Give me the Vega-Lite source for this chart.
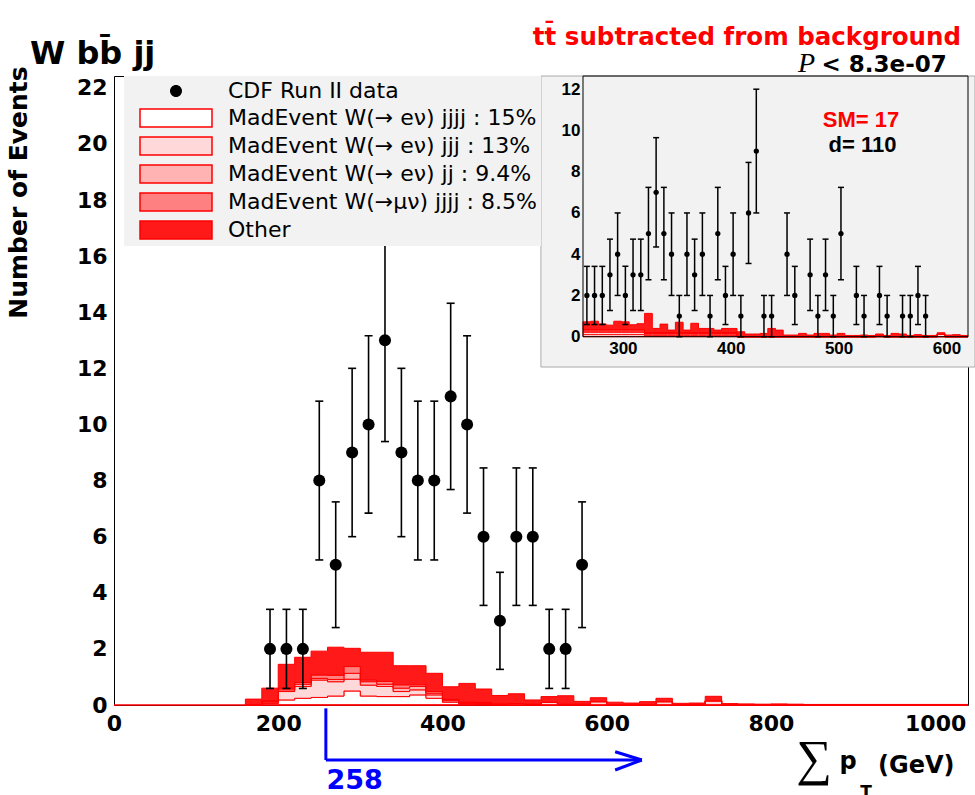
{
  "$schema": "https://vega.github.io/schema/vega-lite/v6.json",
  "width": 854,
  "height": 629,
  "autosize": {"type": "none"},
  "padding": {"left": 114, "top": 76, "right": 7, "bottom": 90},
  "background": "white",
  "config": {
    "view": {"stroke": "black", "strokeWidth": 1},
    "axis": {"grid": false, "domain": false}
  },
  "datasets": {
    "blank": [{}],
    "mainHist": [
      {"x": 160, "c1": 0, "c2": 0, "c3": 0, "c4": 0, "c5": 0.21},
      {"x": 180, "c1": 0.05, "c2": 0.05, "c3": 0.03, "c4": 0.02, "c5": 0.45},
      {"x": 200, "c1": 0.18, "c2": 0.3, "c3": 0.06, "c4": 0.06, "c5": 0.85},
      {"x": 220, "c1": 0.24, "c2": 0.42, "c3": 0.08, "c4": 0.06, "c5": 0.9},
      {"x": 240, "c1": 0.27, "c2": 0.62, "c3": 0.06, "c4": 0.12, "c5": 0.85},
      {"x": 260, "c1": 0.32, "c2": 0.51, "c3": 0.08, "c4": 0.15, "c5": 1.0},
      {"x": 280, "c1": 0.5, "c2": 0.42, "c3": 0.21, "c4": 0.24, "c5": 0.65},
      {"x": 300, "c1": 0.32, "c2": 0.39, "c3": 0.12, "c4": 0.06, "c5": 0.99},
      {"x": 320, "c1": 0.3, "c2": 0.36, "c3": 0.08, "c4": 0.1, "c5": 1.04},
      {"x": 340, "c1": 0.3, "c2": 0.18, "c3": 0.12, "c4": 0.12, "c5": 0.68},
      {"x": 360, "c1": 0.36, "c2": 0.18, "c3": 0.12, "c4": 0.06, "c5": 0.68},
      {"x": 380, "c1": 0.24, "c2": 0.12, "c3": 0.06, "c4": 0.06, "c5": 0.65},
      {"x": 400, "c1": 0.1, "c2": 0.05, "c3": 0.03, "c4": 0.02, "c5": 0.45},
      {"x": 420, "c1": 0.03, "c2": 0.03, "c3": 0.02, "c4": 0.02, "c5": 0.67},
      {"x": 440, "c1": 0.02, "c2": 0.03, "c3": 0.02, "c4": 0.02, "c5": 0.48},
      {"x": 460, "c1": 0, "c2": 0.04, "c3": 0, "c4": 0, "c5": 0.3},
      {"x": 480, "c1": 0, "c2": 0.05, "c3": 0, "c4": 0, "c5": 0.35},
      {"x": 500, "c1": 0, "c2": 0.03, "c3": 0, "c4": 0, "c5": 0.15},
      {"x": 520, "c1": 0, "c2": 0.1, "c3": 0, "c4": 0, "c5": 0.2},
      {"x": 540, "c1": 0, "c2": 0.03, "c3": 0, "c4": 0, "c5": 0.3},
      {"x": 560, "c1": 0, "c2": 0.03, "c3": 0, "c4": 0, "c5": 0.1},
      {"x": 580, "c1": 0, "c2": 0.12, "c3": 0, "c4": 0, "c5": 0.14},
      {"x": 600, "c1": 0, "c2": 0, "c3": 0, "c4": 0, "c5": 0.1},
      {"x": 620, "c1": 0, "c2": 0, "c3": 0, "c4": 0, "c5": 0.07},
      {"x": 640, "c1": 0, "c2": 0, "c3": 0, "c4": 0, "c5": 0.12},
      {"x": 660, "c1": 0, "c2": 0.12, "c3": 0, "c4": 0, "c5": 0.12},
      {"x": 680, "c1": 0, "c2": 0, "c3": 0, "c4": 0, "c5": 0.06},
      {"x": 700, "c1": 0, "c2": 0, "c3": 0, "c4": 0, "c5": 0.07},
      {"x": 720, "c1": 0, "c2": 0.15, "c3": 0, "c4": 0, "c5": 0.16},
      {"x": 740, "c1": 0, "c2": 0, "c3": 0, "c4": 0, "c5": 0.05},
      {"x": 760, "c1": 0, "c2": 0, "c3": 0, "c4": 0, "c5": 0.04},
      {"x": 780, "c1": 0, "c2": 0, "c3": 0, "c4": 0, "c5": 0.03},
      {"x": 800, "c1": 0, "c2": 0, "c3": 0, "c4": 0, "c5": 0.04},
      {"x": 820, "c1": 0, "c2": 0, "c3": 0, "c4": 0, "c5": 0.03},
      {"x": 840, "c1": 0, "c2": 0, "c3": 0, "c4": 0, "c5": 0.02},
      {"x": 860, "c1": 0, "c2": 0, "c3": 0, "c4": 0, "c5": 0.02},
      {"x": 880, "c1": 0, "c2": 0, "c3": 0, "c4": 0, "c5": 0.02},
      {"x": 900, "c1": 0, "c2": 0, "c3": 0, "c4": 0, "c5": 0.02},
      {"x": 920, "c1": 0, "c2": 0, "c3": 0, "c4": 0, "c5": 0.02},
      {"x": 940, "c1": 0, "c2": 0, "c3": 0, "c4": 0, "c5": 0.02},
      {"x": 960, "c1": 0, "c2": 0, "c3": 0, "c4": 0, "c5": 0.02},
      {"x": 980, "c1": 0, "c2": 0, "c3": 0, "c4": 0, "c5": 0.02},
      {"x": 1000, "c1": 0, "c2": 0, "c3": 0, "c4": 0, "c5": 0.02},
      {"x": 1020, "c1": 0, "c2": 0, "c3": 0, "c4": 0, "c5": 0.02},
      {"x": 1040, "c1": 0, "c2": 0, "c3": 0, "c4": 0, "c5": 0}
    ],
    "mainPts": [
      {"x": 190, "n": 2, "lo": 0.59, "hi": 3.41},
      {"x": 210, "n": 2, "lo": 0.59, "hi": 3.41},
      {"x": 230, "n": 2, "lo": 0.59, "hi": 3.41},
      {"x": 250, "n": 8, "lo": 5.17, "hi": 10.83},
      {"x": 270, "n": 5, "lo": 2.76, "hi": 7.24},
      {"x": 290, "n": 9, "lo": 6, "hi": 12},
      {"x": 310, "n": 10, "lo": 6.84, "hi": 13.16},
      {"x": 330, "n": 13, "lo": 9.39, "hi": 16.61},
      {"x": 350, "n": 9, "lo": 6, "hi": 12},
      {"x": 370, "n": 8, "lo": 5.17, "hi": 10.83},
      {"x": 390, "n": 8, "lo": 5.17, "hi": 10.83},
      {"x": 410, "n": 11, "lo": 7.68, "hi": 14.32},
      {"x": 430, "n": 10, "lo": 6.84, "hi": 13.16},
      {"x": 450, "n": 6, "lo": 3.55, "hi": 8.45},
      {"x": 470, "n": 3, "lo": 1.27, "hi": 4.73},
      {"x": 490, "n": 6, "lo": 3.55, "hi": 8.45},
      {"x": 510, "n": 6, "lo": 3.55, "hi": 8.45},
      {"x": 530, "n": 2, "lo": 0.59, "hi": 3.41},
      {"x": 550, "n": 2, "lo": 0.59, "hi": 3.41},
      {"x": 570, "n": 5, "lo": 2.76, "hi": 7.24}
    ],
    "insetHist": [
      {"x": 263, "c1": 0.1, "c2": 0.12, "c3": 0.06, "c4": 0.06, "c5": 0.38},
      {"x": 270.14, "c1": 0.1, "c2": 0.12, "c3": 0.06, "c4": 0.06, "c5": 0.41},
      {"x": 277.28, "c1": 0.1, "c2": 0.12, "c3": 0.06, "c4": 0.06, "c5": 0.28},
      {"x": 284.42, "c1": 0.1, "c2": 0.12, "c3": 0.06, "c4": 0.06, "c5": 0.22},
      {"x": 291.56, "c1": 0.1, "c2": 0.12, "c3": 0.06, "c4": 0.06, "c5": 0.41},
      {"x": 298.7, "c1": 0.1, "c2": 0.12, "c3": 0.06, "c4": 0.06, "c5": 0.38},
      {"x": 305.84, "c1": 0.1, "c2": 0.12, "c3": 0.06, "c4": 0.06, "c5": 0.24},
      {"x": 312.98, "c1": 0.1, "c2": 0.12, "c3": 0.06, "c4": 0.06, "c5": 0.29},
      {"x": 320.12, "c1": 0.05, "c2": 0.08, "c3": 0.03, "c4": 0.04, "c5": 0.93},
      {"x": 327.26, "c1": 0.05, "c2": 0.08, "c3": 0.03, "c4": 0.04, "c5": 0.2},
      {"x": 334.4, "c1": 0.05, "c2": 0.08, "c3": 0.03, "c4": 0.04, "c5": 0.41},
      {"x": 341.54, "c1": 0.05, "c2": 0.08, "c3": 0.03, "c4": 0.04, "c5": 0.12},
      {"x": 348.68, "c1": 0.05, "c2": 0.08, "c3": 0.03, "c4": 0.04, "c5": 0.5},
      {"x": 355.82, "c1": 0.05, "c2": 0.08, "c3": 0.03, "c4": 0.04, "c5": 0.12},
      {"x": 362.96, "c1": 0.05, "c2": 0.08, "c3": 0.03, "c4": 0.04, "c5": 0.45},
      {"x": 370.1, "c1": 0.05, "c2": 0.08, "c3": 0.03, "c4": 0.04, "c5": 0.2},
      {"x": 377.24, "c1": 0.05, "c2": 0.08, "c3": 0.03, "c4": 0.04, "c5": 0.2},
      {"x": 384.38, "c1": 0.05, "c2": 0.08, "c3": 0.03, "c4": 0.04, "c5": 0.12},
      {"x": 391.52, "c1": 0.05, "c2": 0.08, "c3": 0.03, "c4": 0.04, "c5": 0.2},
      {"x": 398.66, "c1": 0.05, "c2": 0.08, "c3": 0.03, "c4": 0.04, "c5": 0.2},
      {"x": 405.8, "c1": 0, "c2": 0, "c3": 0, "c4": 0, "c5": 0.24},
      {"x": 412.94, "c1": 0, "c2": 0, "c3": 0, "c4": 0, "c5": 0.13},
      {"x": 420.08, "c1": 0, "c2": 0, "c3": 0, "c4": 0, "c5": 0.13},
      {"x": 427.22, "c1": 0, "c2": 0, "c3": 0, "c4": 0, "c5": 0.16},
      {"x": 434.36, "c1": 0, "c2": 0, "c3": 0, "c4": 0, "c5": 0.4},
      {"x": 441.5, "c1": 0, "c2": 0, "c3": 0, "c4": 0, "c5": 0.32},
      {"x": 448.64, "c1": 0, "c2": 0, "c3": 0, "c4": 0, "c5": 0.08},
      {"x": 455.78, "c1": 0, "c2": 0, "c3": 0, "c4": 0, "c5": 0.08},
      {"x": 462.92, "c1": 0, "c2": 0, "c3": 0, "c4": 0, "c5": 0.16},
      {"x": 470.06, "c1": 0, "c2": 0, "c3": 0, "c4": 0, "c5": 0.08},
      {"x": 477.2, "c1": 0, "c2": 0, "c3": 0, "c4": 0, "c5": 0.16},
      {"x": 484.34, "c1": 0, "c2": 0, "c3": 0, "c4": 0, "c5": 0.16},
      {"x": 491.48, "c1": 0, "c2": 0, "c3": 0, "c4": 0, "c5": 0.08},
      {"x": 498.62, "c1": 0, "c2": 0, "c3": 0, "c4": 0, "c5": 0.16},
      {"x": 505.76, "c1": 0, "c2": 0, "c3": 0, "c4": 0, "c5": 0.06},
      {"x": 512.9, "c1": 0, "c2": 0, "c3": 0, "c4": 0, "c5": 0.06},
      {"x": 520.04, "c1": 0, "c2": 0, "c3": 0, "c4": 0, "c5": 0.08},
      {"x": 527.18, "c1": 0, "c2": 0, "c3": 0, "c4": 0, "c5": 0.06},
      {"x": 534.32, "c1": 0, "c2": 0.07, "c3": 0, "c4": 0, "c5": 0.06},
      {"x": 541.46, "c1": 0, "c2": 0, "c3": 0, "c4": 0, "c5": 0.06},
      {"x": 548.6, "c1": 0, "c2": 0, "c3": 0, "c4": 0, "c5": 0.16},
      {"x": 555.74, "c1": 0, "c2": 0, "c3": 0, "c4": 0, "c5": 0.13},
      {"x": 562.88, "c1": 0, "c2": 0, "c3": 0, "c4": 0, "c5": 0.06},
      {"x": 570.02, "c1": 0, "c2": 0, "c3": 0, "c4": 0, "c5": 0.1},
      {"x": 577.16, "c1": 0, "c2": 0, "c3": 0, "c4": 0, "c5": 0.06},
      {"x": 584.3, "c1": 0, "c2": 0, "c3": 0, "c4": 0, "c5": 0.06},
      {"x": 591.44, "c1": 0, "c2": 0.12, "c3": 0, "c4": 0, "c5": 0.07},
      {"x": 598.58, "c1": 0, "c2": 0, "c3": 0, "c4": 0, "c5": 0.08},
      {"x": 605.72, "c1": 0, "c2": 0, "c3": 0, "c4": 0, "c5": 0.1},
      {"x": 612.86, "c1": 0, "c2": 0, "c3": 0, "c4": 0, "c5": 0.06},
      {"x": 620, "c1": 0, "c2": 0, "c3": 0, "c4": 0, "c5": 0}
    ],
    "insetPts": [
      {"x": 266.6, "n": 2, "lo": 0.59, "hi": 3.41},
      {"x": 273.7, "n": 2, "lo": 0.59, "hi": 3.41},
      {"x": 280.9, "n": 2, "lo": 0.59, "hi": 3.41},
      {"x": 288.0, "n": 3, "lo": 1.27, "hi": 4.73},
      {"x": 295.1, "n": 4, "lo": 2, "hi": 6},
      {"x": 302.3, "n": 2, "lo": 0.59, "hi": 3.41},
      {"x": 309.4, "n": 3, "lo": 1.27, "hi": 4.73},
      {"x": 316.6, "n": 3, "lo": 1.27, "hi": 4.73},
      {"x": 323.7, "n": 5, "lo": 2.76, "hi": 7.24},
      {"x": 330.8, "n": 7, "lo": 4.35, "hi": 9.65},
      {"x": 338.0, "n": 5, "lo": 2.76, "hi": 7.24},
      {"x": 345.1, "n": 4, "lo": 2, "hi": 6},
      {"x": 352.3, "n": 1, "lo": 0, "hi": 2},
      {"x": 359.4, "n": 4, "lo": 2, "hi": 6},
      {"x": 366.5, "n": 3, "lo": 1.27, "hi": 4.73},
      {"x": 373.7, "n": 4, "lo": 2, "hi": 6},
      {"x": 380.8, "n": 1, "lo": 0, "hi": 2},
      {"x": 388.0, "n": 5, "lo": 2.76, "hi": 7.24},
      {"x": 395.1, "n": 2, "lo": 0.59, "hi": 3.41},
      {"x": 402.2, "n": 4, "lo": 2, "hi": 6},
      {"x": 409.4, "n": 1, "lo": 0, "hi": 2},
      {"x": 416.5, "n": 6, "lo": 3.55, "hi": 8.45},
      {"x": 423.7, "n": 9, "lo": 6, "hi": 12},
      {"x": 430.8, "n": 1, "lo": 0, "hi": 2},
      {"x": 437.9, "n": 1, "lo": 0, "hi": 2},
      {"x": 452.2, "n": 4, "lo": 2, "hi": 6},
      {"x": 459.4, "n": 2, "lo": 0.59, "hi": 3.41},
      {"x": 473.6, "n": 3, "lo": 1.27, "hi": 4.73},
      {"x": 480.8, "n": 1, "lo": 0, "hi": 2},
      {"x": 487.9, "n": 3, "lo": 1.27, "hi": 4.73},
      {"x": 495.1, "n": 1, "lo": 0, "hi": 2},
      {"x": 502.2, "n": 5, "lo": 2.76, "hi": 7.24},
      {"x": 516.5, "n": 2, "lo": 0.59, "hi": 3.41},
      {"x": 523.6, "n": 1, "lo": 0, "hi": 2},
      {"x": 537.9, "n": 2, "lo": 0.59, "hi": 3.41},
      {"x": 545.0, "n": 1, "lo": 0, "hi": 2},
      {"x": 559.3, "n": 1, "lo": 0, "hi": 2},
      {"x": 566.5, "n": 1, "lo": 0, "hi": 2},
      {"x": 573.6, "n": 2, "lo": 0.59, "hi": 3.41},
      {"x": 580.7, "n": 1, "lo": 0, "hi": 2}
    ]
  },
  "layer": [
    {
      "layer": [
        {
          "data": {"name": "mainHist"},
          "transform": [{"fold": ["c1", "c2", "c3", "c4", "c5"], "as": ["key", "value"]}],
          "mark": {"type": "area", "interpolate": "step-after", "stroke": "red", "strokeWidth": 1, "fillOpacity": 1, "opacity": 1},
          "encoding": {
            "x": {
              "field": "x", "type": "quantitative",
              "scale": {"domain": [0, 1040], "nice": false, "zero": false},
              "axis": {
                "title": null,
                "values": [0, 50, 100, 150, 200, 250, 300, 350, 400, 450, 500, 550, 600, 650, 700, 750, 800, 850, 900, 950, 1000],
                "format": "d",
                "labelExpr": "datum.value % 200 === 0 ? datum.label : ''",
                "tickSize": 0, "tickColor": "black", "tickWidth": 1,
                "labelFont": "DejaVu Sans", "labelFontWeight": "bold", "labelFontSize": 22, "labelColor": "black",
                "labelPadding": 8, "labelFlush": false, "labelOverlap": false,
                "encode": {"ticks": {"update": {"y2": {"signal": "datum.value % 200 === 0 ? -18 : -9"}}}}
              }
            },
            "y": {
              "field": "value", "type": "quantitative", "stack": "zero",
              "scale": {"domain": [0, 22.42], "nice": false},
              "axis": {
                "title": "Number of Events",
                "titleFont": "DejaVu Sans", "titleFontWeight": "bold", "titleFontSize": 25, "titleColor": "black",
                "titleAngle": -90, "titleX": -96, "titleY": 116, "titleAlign": "center", "titleBaseline": "middle",
                "values": [0, 0.5, 1, 1.5, 2, 2.5, 3, 3.5, 4, 4.5, 5, 5.5, 6, 6.5, 7, 7.5, 8, 8.5, 9, 9.5, 10, 10.5, 11, 11.5, 12, 12.5, 13, 13.5, 14, 14.5, 15, 15.5, 16, 16.5, 17, 17.5, 18, 18.5, 19, 19.5, 20, 20.5, 21, 21.5, 22],
                "format": "d",
                "labelExpr": "datum.value % 2 === 0 ? datum.label : ''",
                "tickSize": 0, "tickColor": "black", "tickWidth": 1,
                "labelFont": "DejaVu Sans", "labelFontWeight": "bold", "labelFontSize": 22, "labelColor": "black",
                "labelPadding": 7, "labelFlush": false, "labelOverlap": false,
                "encode": {"ticks": {"update": {"x2": {"signal": "datum.value % 2 === 0 ? 26 : 13"}}}}
              }
            },
            "fill": {
              "field": "key", "type": "nominal",
              "scale": {"domain": ["c0", "c1", "c2", "c3", "c4", "c5"], "range": ["black", "white", "#ffd9d9", "#ffb3b3", "#ff8080", "#ff1919"]},
              "legend": {
                "orient": "none", "legendX": 10, "legendY": 0, "direction": "vertical",
                "title": null, "fillColor": "#f2f2f2", "padding": 4,
                "symbolSize": 324, "symbolOffset": 37, "labelOffset": 41, "rowPadding": 4,
                "symbolStrokeWidth": 1.5,
                "symbolType": {"expr": "datum.value === 'c0' ? 'M-0.667,0A0.667,0.667,0,1,0,0.667,0A0.667,0.667,0,1,0,-0.667,0Z' : 'M-4,-1H4V1H-4Z'"},
                "symbolStrokeColor": {"expr": "datum.value === 'c0' ? 'transparent' : 'red'"},
                "labelFont": "DejaVu Sans", "labelFontSize": 22, "labelColor": "black", "labelLimit": 600,
                "zindex": 2,
                "labelExpr": "datum.value == 'c0' ? 'CDF Run II data' : datum.value == 'c1' ? 'MadEvent W(→ eν) jjjj : 15%' : datum.value == 'c2' ? 'MadEvent W(→ eν) jjj : 13%' : datum.value == 'c3' ? 'MadEvent W(→ eν) jj : 9.4%' : datum.value == 'c4' ? 'MadEvent W(→μν) jjjj : 8.5%' : 'Other'",
                "encode": {
                  "symbols": {
                    "shape": {
                      "condition": {"test": "datum.value === 'c0'", "value": "M-0.667,0A0.667,0.667,0,1,0,0.667,0A0.667,0.667,0,1,0,-0.667,0Z"},
                      "value": "M-4,-1H4V1H-4Z"
                    },
                    "stroke": {
                      "condition": {"test": "datum.value === 'c0'", "value": "transparent"},
                      "value": "red"
                    },
                    "strokeWidth": {"value": 1.5},
                    "opacity": {"value": 1},
                    "fillOpacity": {"value": 1}
                  }
                }
              }
            },
            "order": {"field": "key", "sort": "ascending"}
          }
        },
        {
          "data": {"name": "blank"},
          "mark": {"type": "rule", "color": "red", "strokeWidth": 1.5},
          "encoding": {"y": {"datum": 0}}
        },
        {
          "data": {"name": "mainPts"},
          "mark": {"type": "rule", "color": "black", "strokeWidth": 1.6},
          "encoding": {
            "x": {"field": "x", "type": "quantitative"},
            "y": {"field": "lo", "type": "quantitative"},
            "y2": {"field": "hi"}
          }
        },
        {
          "data": {"name": "mainPts"},
          "mark": {"type": "tick", "orient": "horizontal", "size": 8, "thickness": 1.6, "color": "black", "opacity": 1},
          "encoding": {
            "x": {"field": "x", "type": "quantitative"},
            "y": {"field": "hi", "type": "quantitative"}
          }
        },
        {
          "data": {"name": "mainPts"},
          "mark": {"type": "tick", "orient": "horizontal", "size": 8, "thickness": 1.6, "color": "black", "opacity": 1},
          "encoding": {
            "x": {"field": "x", "type": "quantitative"},
            "y": {"field": "lo", "type": "quantitative"}
          }
        },
        {
          "data": {"name": "mainPts"},
          "mark": {"type": "point", "shape": "circle", "filled": true, "size": 145, "opacity": 1, "color": "black"},
          "encoding": {
            "x": {"field": "x", "type": "quantitative"},
            "y": {"field": "n", "type": "quantitative"}
          }
        },
        {
          "data": {"name": "blank"},
          "mark": {"type": "rule", "color": "#0000ff", "strokeWidth": 3},
          "encoding": {"x": {"datum": 258}, "y": {"datum": -0.12}, "y2": {"datum": -1.96}}
        },
        {
          "data": {"name": "blank"},
          "mark": {"type": "rule", "color": "#0000ff", "strokeWidth": 3},
          "encoding": {"x": {"datum": 258}, "x2": {"datum": 642.8}, "y": {"datum": -1.96}}
        },
        {
          "data": {"name": "blank"},
          "mark": {"type": "rule", "color": "#0000ff", "strokeWidth": 3},
          "encoding": {"x": {"datum": 610.3}, "x2": {"datum": 642.8}, "y": {"datum": -1.665}, "y2": {"datum": -1.96}}
        },
        {
          "data": {"name": "blank"},
          "mark": {"type": "rule", "color": "#0000ff", "strokeWidth": 3},
          "encoding": {"x": {"datum": 610.3}, "x2": {"datum": 642.8}, "y": {"datum": -2.317}, "y2": {"datum": -1.96}}
        },
        {
          "data": {"name": "blank"},
          "mark": {"type": "text", "font": "DejaVu Sans", "fontWeight": "bold", "fontSize": 27, "color": "#0000ff", "align": "left", "baseline": "alphabetic"},
          "encoding": {"x": {"datum": 258.7}, "y": {"datum": -2.98}, "text": {"value": "258"}}
        },
        {
          "data": {"name": "blank"},
          "mark": {"type": "text", "font": "Liberation Serif", "fontSize": 50, "color": "black", "align": "center", "baseline": "middle"},
          "encoding": {"x": {"datum": 852.5}, "y": {"datum": -1.96}, "text": {"value": "∑"}}
        },
        {
          "data": {"name": "blank"},
          "mark": {"type": "text", "font": "DejaVu Sans", "fontWeight": "bold", "fontSize": 24, "color": "black", "align": "center", "baseline": "alphabetic"},
          "encoding": {"x": {"datum": 893.9}, "y": {"datum": -2.28}, "text": {"value": "p"}}
        },
        {
          "data": {"name": "blank"},
          "mark": {"type": "text", "font": "DejaVu Sans", "fontWeight": "bold", "fontSize": 17, "color": "black", "align": "center", "baseline": "alphabetic"},
          "encoding": {"x": {"datum": 915.8}, "y": {"datum": -3.3}, "text": {"value": "T"}}
        },
        {
          "data": {"name": "blank"},
          "mark": {"type": "text", "font": "DejaVu Sans", "fontWeight": "bold", "fontSize": 24, "color": "black", "align": "left", "baseline": "alphabetic"},
          "encoding": {"x": {"datum": 930.4}, "y": {"datum": -2.42}, "text": {"value": "(GeV)"}}
        },
        {
          "data": {"name": "blank"},
          "mark": {"type": "text", "font": "DejaVu Sans", "fontWeight": "bold", "fontSize": 32, "color": "black", "align": "left", "baseline": "alphabetic"},
          "encoding": {"x": {"datum": -102.3}, "y": {"datum": 22.85}, "text": {"value": "W bb\u0304 jj"}}
        },
        {
          "data": {"name": "blank"},
          "mark": {"type": "text", "font": "DejaVu Sans", "fontWeight": "bold", "fontSize": 24.5, "color": "#ff0000", "align": "right", "baseline": "alphabetic"},
          "encoding": {"x": {"datum": 1031.5}, "y": {"datum": 23.53}, "text": {"value": "tt\u0304 subtracted from background"}}
        },
        {
          "data": {"name": "blank"},
          "mark": {"type": "text", "font": "DejaVu Sans", "fontWeight": "bold", "fontSize": 23, "color": "black", "align": "right", "baseline": "alphabetic"},
          "encoding": {"x": {"datum": 1014.1}, "y": {"datum": 22.57}, "text": {"value": "< 8.3e-07"}}
        },
        {
          "data": {"name": "blank"},
          "mark": {"type": "text", "font": "Liberation Serif", "fontStyle": "italic", "fontSize": 28, "color": "black", "align": "right", "baseline": "alphabetic"},
          "encoding": {"x": {"datum": 853.7}, "y": {"datum": 22.57}, "text": {"value": "P"}}
        }
      ]
    },
    {
      "layer": [
        {
          "data": {"name": "blank"},
          "mark": {"type": "rect", "fill": "#f2f2f2", "stroke": "#aaaaaa", "strokeWidth": 1},
          "encoding": {
            "x": {"datum": 224}, "x2": {"datum": 626.5},
            "y": {"datum": -1.47}, "y2": {"datum": 12.64}
          }
        },
        {
          "data": {"name": "insetHist"},
          "transform": [{"fold": ["c1", "c2", "c3", "c4", "c5"], "as": ["key", "value"]}],
          "mark": {"type": "area", "interpolate": "step-after", "stroke": "red", "strokeWidth": 1, "fillOpacity": 1, "opacity": 1},
          "encoding": {
            "x": {
              "field": "x", "type": "quantitative",
              "scale": {"domain": [263, 620], "range": [469, 854], "nice": false, "zero": false},
              "axis": {
                "orient": "bottom", "offset": -368.3, "title": null, "zindex": 1,
                "values": [300, 400, 500, 600], "format": "d",
                "tickSize": 0, "tickColor": "black", "tickWidth": 1,
                "labelFont": "Liberation Sans", "labelFontWeight": "bold", "labelFontSize": 17, "labelColor": "black",
                "labelPadding": 4, "labelFlush": false, "labelOverlap": false,
                "encode": {"ticks": {"update": {"y2": {"value": -10}}}}
              }
            },
            "y": {
              "field": "value", "type": "quantitative", "stack": "zero",
              "scale": {"domain": [0, 12.64], "range": [260.7, 0], "nice": false},
              "axis": {
                "orient": "left", "offset": -469, "title": null, "zindex": 1,
                "values": [0, 0.5, 1, 1.5, 2, 2.5, 3, 3.5, 4, 4.5, 5, 5.5, 6, 6.5, 7, 7.5, 8, 8.5, 9, 9.5, 10, 10.5, 11, 11.5, 12, 12.5],
                "format": "d",
                "labelExpr": "datum.value % 2 === 0 ? datum.label : ''",
                "tickSize": 0, "tickColor": "black", "tickWidth": 1,
                "labelFont": "Liberation Sans", "labelFontWeight": "bold", "labelFontSize": 17, "labelColor": "black",
                "labelPadding": 3, "labelFlush": false, "labelOverlap": false,
                "encode": {"ticks": {"update": {"x2": {"signal": "datum.value % 2 === 0 ? 12 : 6"}}}}
              }
            },
            "fill": {"field": "key", "type": "nominal"},
            "order": {"field": "key", "sort": "ascending"}
          }
        },
        {
          "data": {"name": "blank"},
          "mark": {"type": "rect", "fill": "transparent", "stroke": "black", "strokeWidth": 1},
          "encoding": {
            "x": {"datum": 263}, "x2": {"datum": 620},
            "y": {"datum": 0}, "y2": {"datum": 12.64}
          }
        },
        {
          "data": {"name": "insetPts"},
          "mark": {"type": "rule", "color": "black", "strokeWidth": 1.5},
          "encoding": {
            "x": {"field": "x", "type": "quantitative"},
            "y": {"field": "lo", "type": "quantitative"},
            "y2": {"field": "hi"}
          }
        },
        {
          "data": {"name": "insetPts"},
          "mark": {"type": "tick", "orient": "horizontal", "size": 6, "thickness": 1.5, "color": "black", "opacity": 1},
          "encoding": {
            "x": {"field": "x", "type": "quantitative"},
            "y": {"field": "hi", "type": "quantitative"}
          }
        },
        {
          "data": {"name": "insetPts"},
          "mark": {"type": "tick", "orient": "horizontal", "size": 6, "thickness": 1.5, "color": "black", "opacity": 1},
          "encoding": {
            "x": {"field": "x", "type": "quantitative"},
            "y": {"field": "lo", "type": "quantitative"}
          }
        },
        {
          "data": {"name": "insetPts"},
          "mark": {"type": "point", "shape": "circle", "filled": true, "size": 28, "opacity": 1, "color": "black"},
          "encoding": {
            "x": {"field": "x", "type": "quantitative"},
            "y": {"field": "n", "type": "quantitative"}
          }
        },
        {
          "data": {"name": "blank"},
          "mark": {"type": "text", "font": "Liberation Sans", "fontWeight": "bold", "fontSize": 22, "color": "#ff0000", "align": "center", "baseline": "alphabetic"},
          "encoding": {"x": {"datum": 520.8}, "y": {"datum": 10.18}, "text": {"value": "SM= 17"}}
        },
        {
          "data": {"name": "blank"},
          "mark": {"type": "text", "font": "Liberation Sans", "fontWeight": "bold", "fontSize": 22, "color": "black", "align": "center", "baseline": "alphabetic"},
          "encoding": {"x": {"datum": 522.2}, "y": {"datum": 8.97}, "text": {"value": "d= 110"}}
        }
      ]
    }
  ],
  "resolve": {
    "scale": {"x": "independent", "y": "independent"},
    "axis": {"x": "independent", "y": "independent"}
  }
}
